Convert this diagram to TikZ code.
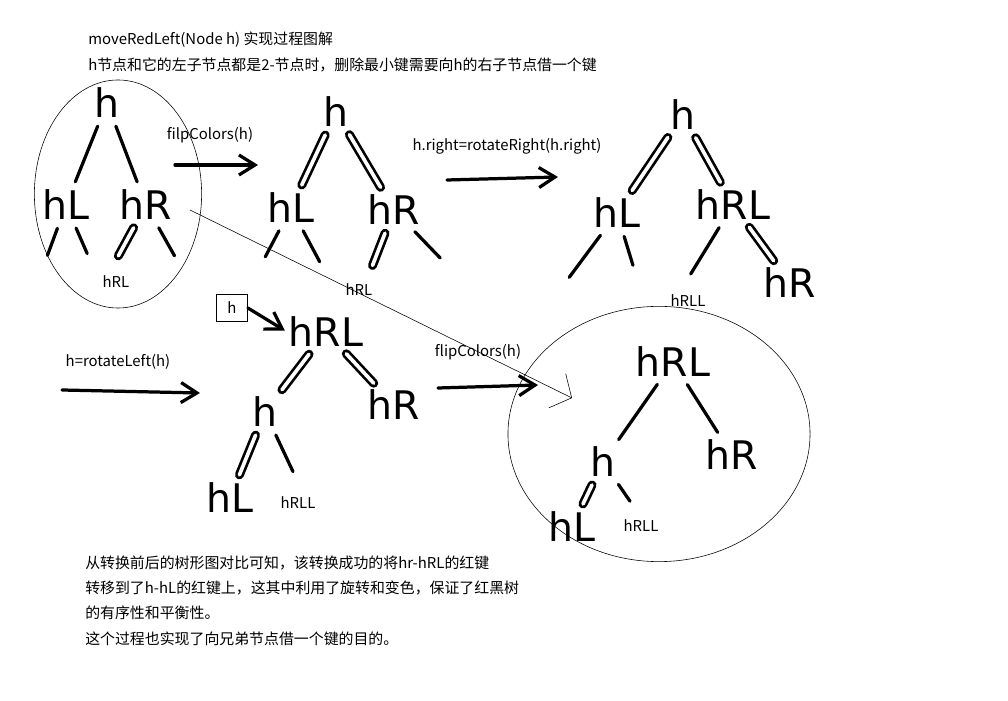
\documentclass[tikz,border=0pt]{standalone}
\usepackage{fontspec}
\setmainfont{Noto Sans CJK SC}
\newfontfamily\handfont{DejaVu Sans}
\usetikzlibrary{positioning, arrows.meta, shapes.geometric}

\begin{document}
\begin{tikzpicture}[
    x=0.025cm, y=-0.025cm,
    key/.style={font=\handfont\fontsize{28}{28}\selectfont, inner sep=1pt},
    note/.style={font=\fontsize{10.6}{12}\selectfont, anchor=west, inner sep=0pt},
    lbl/.style={font=\fontsize{10.6}{12}\selectfont, inner sep=1pt},
    blink/.style={line width=2.3pt, line cap=round, shorten <=5pt, shorten >=5pt},
    rlink/.style={double, line width=1.9pt, double distance=2.6pt, line cap=round, shorten <=5pt, shorten >=5pt},
    bigarr/.style={-{Straight Barb[length=4mm, width=5mm]}, line width=2.3pt, line cap=round},
    ring/.style={draw, ellipse, thin, inner sep=0pt}
]

\useasboundingbox (0,0) rectangle (1008,701);

% heading
\node[note] (title) at (88,40) {moveRedLeft(Node h) 实现过程图解};
\node[note] (cond) at (88,65) {h节点和它的左子节点都是2-节点时，删除最小键需要向h的右子节点借一个键};

% tree 1: before
\node[ring, minimum width=4.18cm, minimum height=5.7cm] (ring1) at (118,194) {};
\node[key] (t1h) at (107,103) {h};
\node[key] (t1hL) at (66,205) {hL};
\node[key] (t1hR) at (146,205) {hR};
\coordinate (t1n1) at (45,262);
\coordinate (t1n2) at (90,260);
\coordinate (t1n3) at (115,262);
\coordinate (t1n4) at (178,262);
\draw[blink] (t1h) -- (t1hL);
\draw[blink] (t1h) -- (t1hR);
\draw[blink] (t1hL) -- (t1n1);
\draw[blink] (t1hL) -- (t1n2);
\draw[rlink] (t1hR) -- (t1n3);
\draw[blink] (t1hR) -- (t1n4);
\node[lbl] (t1sub) at (116,282) {hRL};

% step 1
\coordinate (a1s) at (175,165);
\coordinate (a1e) at (258,165);
\draw[bigarr] (a1s) -- (a1e);
\node[lbl] (a1lbl) at (210,135) {filpColors(h)};

% tree 2
\node[key] (t2h) at (336,112) {h};
\node[key] (t2hL) at (291,208) {hL};
\node[key] (t2hR) at (394,210) {hR};
\coordinate (t2n1) at (262,263);
\coordinate (t2n2) at (323,268);
\coordinate (t2n3) at (370,272);
\coordinate (t2n4) at (445,263);
\draw[rlink] (t2h) -- (t2hL);
\draw[rlink] (t2h) -- (t2hR);
\draw[blink] (t2hL) -- (t2n1);
\draw[blink] (t2hL) -- (t2n2);
\draw[rlink] (t2hR) -- (t2n3);
\draw[blink] (t2hR) -- (t2n4);
\node[lbl] (t2sub) at (359,290) {hRL};

% step 2
\coordinate (a2s) at (447,180);
\coordinate (a2e) at (558,177);
\draw[bigarr] (a2s) -- (a2e);
\node[lbl] (a2lbl) at (507,146) {h.right=rotateRight(h.right)};

% tree 3
\node[key] (t3h) at (683,115) {h};
\node[key] (t3hL) at (617,213) {hL};
\node[key] (t3hRL) at (733,205) {hRL};
\node[key] (t3hR) at (790,283) {hR};
\coordinate (t3n1) at (565,283);
\coordinate (t3n2) at (635,272);
\coordinate (t3n3) at (687,280);
\draw[rlink] (t3h) -- (t3hL);
\draw[rlink] (t3h) -- (t3hRL);
\draw[rlink] (t3hRL) -- (t3hR);
\draw[blink] (t3hL) -- (t3n1);
\draw[blink] (t3hL) -- (t3n2);
\draw[blink] (t3hRL) -- (t3n3);
\node[lbl] (t3sub) at (688,301) {hRLL};

% step 3
\coordinate (a3s) at (62,390);
\coordinate (a3e) at (200,393);
\draw[bigarr] (a3s) -- (a3e);
\node[lbl] (a3lbl) at (118,362) {h=rotateLeft(h)};

% tree 4
\node[draw, thin, minimum width=0.78cm, minimum height=0.68cm, font=\fontsize{10.6}{12}\selectfont] (hbox) at (232,308) {h};
\node[key] (t4hRL) at (326,332) {hRL};
\node[key] (t4h) at (265,412) {h};
\node[key] (t4hR) at (394,405) {hR};
\node[key] (t4hL) at (230,498) {hL};
\coordinate (t4n1) at (296,478);
\draw[bigarr, shorten >=2pt] (hbox.east) -- (t4hRL.west);
\draw[rlink] (t4hRL) -- (t4h);
\draw[rlink] (t4hRL) -- (t4hR);
\draw[rlink] (t4h) -- (t4hL);
\draw[blink] (t4h) -- (t4n1);
\node[lbl] (t4sub) at (298,503) {hRLL};

% step 4
\coordinate (a4s) at (438,388);
\coordinate (a4e) at (538,385);
\draw[bigarr] (a4s) -- (a4e);
\node[lbl] (a4lbl) at (478,352) {flipColors(h)};

% tree 5: after
\node[ring, minimum width=7.55cm, minimum height=6.38cm] (ring2) at (659,434) {};
\node[key] (t5hRL) at (673,362) {hRL};
\node[key] (t5h) at (603,462) {h};
\node[key] (t5hR) at (732,455) {hR};
\node[key] (t5hL) at (572,527) {hL};
\coordinate (t5n1) at (634,507);
\draw[blink] (t5hRL) -- (t5h);
\draw[blink] (t5hRL) -- (t5hR);
\draw[rlink] (t5h) -- (t5hL);
\draw[blink] (t5h) -- (t5n1);
\node[lbl] (t5sub) at (641,526) {hRLL};

% before -> after
\coordinate (cmpS) at (190,210);
\coordinate (cmpE) at (572,398);
\draw[thin, -{Straight Barb[length=4mm, width=9.5mm]}] (cmpS) -- (cmpE);

% conclusion
\node[note] (sum1) at (85,563) {从转换前后的树形图对比可知，该转换成功的将hr-hRL的红键};
\node[note] (sum2) at (85,588) {转移到了h-hL的红键上，这其中利用了旋转和变色，保证了红黑树};
\node[note] (sum3) at (85,613) {的有序性和平衡性。};
\node[note] (sum4) at (85,639) {这个过程也实现了向兄弟节点借一个键的目的。};

\end{tikzpicture}
\end{document}
